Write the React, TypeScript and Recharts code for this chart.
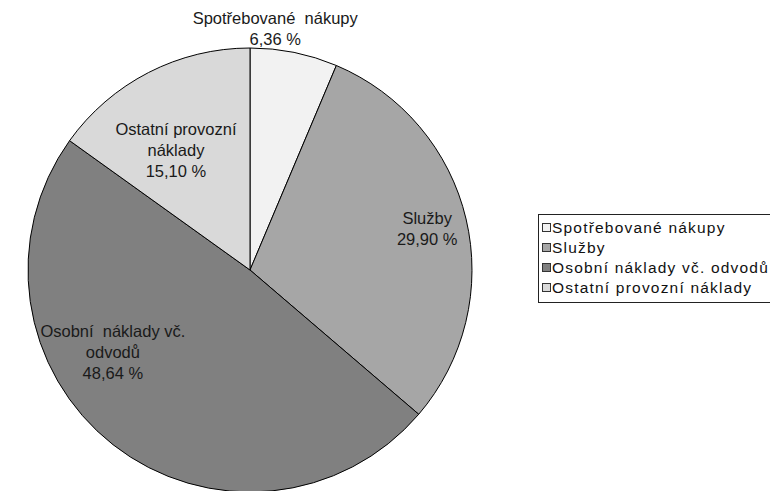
import React from 'react';
import { PieChart, Pie, Cell, Legend } from 'recharts';

// category names, shares (%) and fills
const categories = [
  'Spotřebované nákupy',
  'Služby',
  'Osobní náklady vč. odvodů',
  'Ostatní provozní náklady',
];
const shares = [6.36, 29.9, 48.64, 15.1];
const fills = ['#f2f2f2', '#a6a6a6', '#808080', '#d9d9d9'];

// how the slice labels are wrapped inside the pie
const labelLines = [
  ['Spotřebované\u00a0 nákupy'],
  ['Služby'],
  ['Osobní\u00a0 náklady vč.', 'odvodů'],
  ['Ostatní provozní', 'náklady'],
];

// label placement: radius factor + angle nudge (deg) per slice
const labelRadius = [1.095, 0.82, 0.72, 0.635];
const labelShift = [5.5, 0, -21, 4.5];

const data = categories.map((name, i) => ({ name, value: shares[i] }));

const RAD = Math.PI / 180;
const FONT = 'Liberation Sans, Arial, sans-serif';

const fmt = (v: number) => v.toFixed(2).replace('.', ',') + '\u00a0%';

const renderLabel = (props: any) => {
  const { cx, cy, midAngle, outerRadius, index, value } = props;
  const ang = (midAngle + labelShift[index]) * RAD;
  const r = outerRadius * labelRadius[index];
  const x = cx + r * Math.cos(-ang);
  const y = cy + r * Math.sin(-ang);
  const lines = [...labelLines[index], fmt(value)];
  const lh = 21;
  const y0 = y - ((lines.length - 1) * lh) / 2;
  return (
    <text
      x={x}
      y={y0}
      textAnchor="middle"
      dominantBaseline="central"
      fill="#1a1a1a"
      fontSize={16.5}
      fontFamily={FONT}
    >
      {lines.map((l, k) => (
        <tspan key={k} x={x} y={y0 + k * lh}>
          {l}
        </tspan>
      ))}
    </text>
  );
};

const LegendBox = () => (
  <div
    style={{
      border: '1px solid #222',
      background: '#fff',
      width: 260,
      padding: '3px 0 4px 3px',
      fontFamily: FONT,
      fontSize: 15.5,
      letterSpacing: 1.2,
      color: '#111',
    }}
  >
    {categories.map((c, i) => (
      <div key={c} style={{ height: 20, lineHeight: '20px', whiteSpace: 'nowrap' }}>
        <span
          style={{
            display: 'inline-block',
            width: 7,
            height: 7,
            border: '1px solid #333',
            background: fills[i],
            marginRight: 1,
            verticalAlign: 'middle',
            position: 'relative',
            top: -1,
          }}
        />
        {c}
      </div>
    ))}
  </div>
);

export default function App() {
  return (
    <div style={{ width: 770, height: 483, overflow: 'hidden' }}>
      <PieChart width={770} height={483} margin={{ top: 0, right: 0, bottom: 0, left: 0 }}>
        <Pie
          data={data}
          dataKey="value"
          nameKey="name"
          cx={242}
          cy={262}
          outerRadius={222}
          startAngle={90}
          endAngle={-270}
          stroke="#000"
          strokeWidth={1}
          labelLine={false}
          label={renderLabel}
          isAnimationActive={false}
        >
          {data.map((d, i) => (
            <Cell key={d.name} fill={fills[i]} />
          ))}
        </Pie>
        <Legend
          content={<LegendBox />}
          wrapperStyle={{ position: 'absolute', left: 530, top: 206, width: 270 }}
        />
      </PieChart>
    </div>
  );
}
